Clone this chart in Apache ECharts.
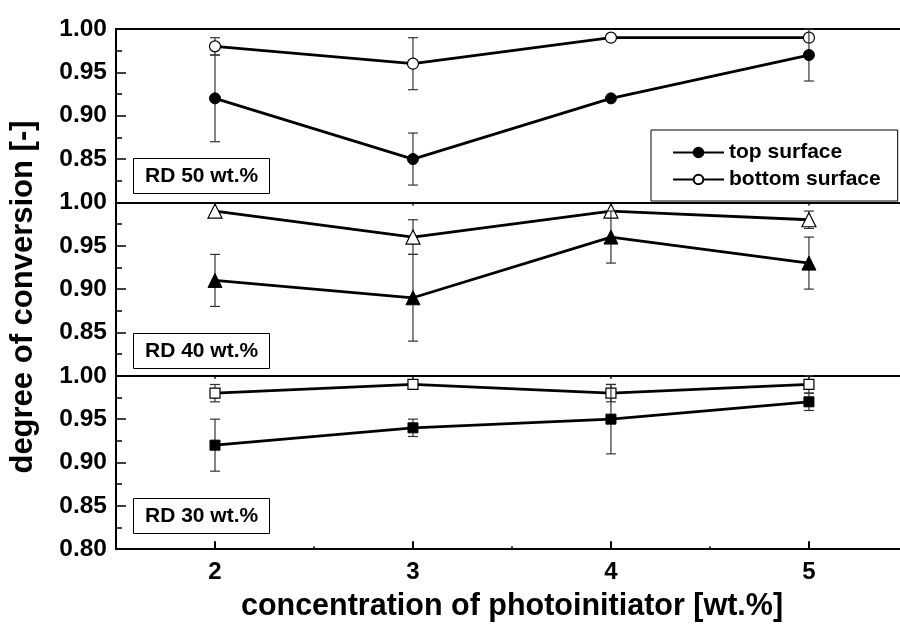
<!DOCTYPE html>
<html>
<head>
<meta charset="utf-8">
<script src="https://cdn.jsdelivr.net/npm/echarts@6/dist/echarts.min.js"></script>
<style>
  html, body { margin: 0; padding: 0; background: #fff; }
  #chart { width: 900px; height: 624px; }
</style>
</head>
<body>
<div id="chart"></div>
<script>
// Photoinitiator concentration [wt.%]
const concentration = [2, 3, 4, 5];
const xTickValues = [2, 3, 4, 5];
const xMinorTickValues = [2.5, 3.5, 4.5];

// Degree of conversion, RD 50 wt.%
const rd50Top = [0.92, 0.85, 0.92, 0.97];
const rd50TopErr = [0.05, 0.03, 0, 0.03];
const rd50Bottom = [0.98, 0.96, 0.99, 0.99];
const rd50BottomErr = [0.01, 0.03, 0, 0];

// Degree of conversion, RD 40 wt.%
const rd40Top = [0.91, 0.89, 0.96, 0.93];
const rd40TopErr = [0.03, 0.05, 0.03, 0.03];
const rd40Bottom = [0.99, 0.96, 0.99, 0.98];
const rd40BottomErr = [0, 0.02, 0, 0.01];

// Degree of conversion, RD 30 wt.%
const rd30Top = [0.92, 0.94, 0.95, 0.97];
const rd30TopErr = [0.03, 0.01, 0.04, 0.01];
const rd30Bottom = [0.98, 0.99, 0.98, 0.99];
const rd30BottomErr = [0.01, 0, 0.01, 0.01];

const panelLabels = ['RD 50 wt.%', 'RD 40 wt.%', 'RD 30 wt.%'];
const seriesNames = ['top surface', 'bottom surface'];

const FONT = '"Liberation Sans", Arial, Helvetica, sans-serif';

const panels = [
  { label: panelLabels[0], symbol: 'circle', size: 11, top: rd50Top, topErr: rd50TopErr, bottom: rd50Bottom, bottomErr: rd50BottomErr },
  { label: panelLabels[1], symbol: 'triangle', size: 14, top: rd40Top, topErr: rd40TopErr, bottom: rd40Bottom, bottomErr: rd40BottomErr },
  { label: panelLabels[2], symbol: 'rect', size: 10, top: rd30Top, topErr: rd30TopErr, bottom: rd30Bottom, bottomErr: rd30BottomErr }
];

// Layout of the three stacked panels (the x range runs off the right edge)
const xMin = 1.5, xMax = 5.46;
const gridLeft = 116, gridHeight = 173.4;
const gridTops = [29, 202.4, 375.8];
const labelBoxTops = [158, 333, 498];

const axisLineStyle = { color: '#000', width: 2 };

function errorBar(params, api) {
  const x = api.value(0), lo = api.value(1), hi = api.value(2);
  if (!(hi > lo)) return null;
  const a = api.coord([x, hi]), b = api.coord([x, lo]);
  const cw = 5;
  const st = { stroke: '#333', lineWidth: 1.2 };
  return {
    type: 'group',
    children: [
      { type: 'line', shape: { x1: a[0], y1: a[1], x2: b[0], y2: b[1] }, style: st },
      { type: 'line', shape: { x1: a[0] - cw, y1: a[1], x2: a[0] + cw, y2: a[1] }, style: st },
      { type: 'line', shape: { x1: b[0] - cw, y1: b[1], x2: b[0] + cw, y2: b[1] }, style: st }
    ]
  };
}

const grid = [], xAxis = [], yAxis = [], series = [], title = [];

panels.forEach((p, i) => {
  grid.push({ left: gridLeft, right: 0, top: gridTops[i], height: gridHeight });

  const isLast = i === panels.length - 1;
  // bottom edge of the panel
  xAxis.push({
    gridIndex: i, type: 'value', min: xMin, max: xMax, position: 'bottom',
    axisLine: { onZero: false, lineStyle: axisLineStyle },
    axisTick: isLast ? { show: true, inside: true, length: 8, customValues: xTickValues, lineStyle: { color: '#000', width: 2 } } : { show: false },
    axisLabel: isLast ? { show: true, customValues: xTickValues, margin: 11, color: '#000', fontSize: 24, fontWeight: 'bold', fontFamily: FONT } : { show: false },
    splitLine: { show: false }
  });
  // top edge of the panel
  xAxis.push({
    gridIndex: i, type: 'value', min: xMin, max: xMax, position: 'top',
    axisLine: { onZero: false, lineStyle: axisLineStyle },
    axisTick: i > 0 ? { show: true, inside: true, length: 3, customValues: xTickValues, lineStyle: { color: '#000', width: 1.5 } } : { show: false },
    axisLabel: { show: false },
    splitLine: { show: false }
  });
  const xIdx = xAxis.length - 2;

  yAxis.push({
    gridIndex: i, type: 'value', min: 0.8, max: 1.0, interval: 0.05,
    axisLine: { onZero: false, lineStyle: axisLineStyle },
    axisTick: { show: true, inside: true, length: 10, lineStyle: { color: '#000', width: 1.5 } },
    minorTick: { show: true, splitNumber: 2, length: 6, lineStyle: { color: '#000', width: 1.5 } },
    axisLabel: {
      show: true, margin: 9, color: '#000', fontSize: 24.5, fontWeight: 'bold', fontFamily: FONT,
      showMinLabel: isLast, formatter: v => v.toFixed(2)
    },
    splitLine: { show: false }, minorSplitLine: { show: false }
  });

  const errData = (vals, errs) => concentration.map((x, k) => [x, vals[k] - errs[k], vals[k] + errs[k]]);
  const lineData = vals => concentration.map((x, k) => [x, vals[k]]);

  series.push({
    type: 'custom', renderItem: errorBar, xAxisIndex: xIdx, yAxisIndex: i,
    data: errData(p.bottom, p.bottomErr), encode: { x: 0, y: [1, 2] }, z: 2, silent: true
  });
  series.push({
    type: 'line', name: seriesNames[1], xAxisIndex: xIdx, yAxisIndex: i,
    data: lineData(p.bottom), symbol: p.symbol, symbolSize: p.size, showAllSymbol: true,
    itemStyle: { color: '#fff', borderColor: '#000', borderWidth: 1.2 },
    lineStyle: { color: '#000', width: 2.8 }, z: 3, animation: false
  });
  series.push({
    type: 'custom', renderItem: errorBar, xAxisIndex: xIdx, yAxisIndex: i,
    data: errData(p.top, p.topErr), encode: { x: 0, y: [1, 2] }, z: 4, silent: true
  });
  series.push({
    type: 'line', name: seriesNames[0], xAxisIndex: xIdx, yAxisIndex: i,
    data: lineData(p.top), symbol: p.symbol, symbolSize: p.size, showAllSymbol: true,
    itemStyle: { color: '#000', borderColor: '#000', borderWidth: 1 },
    lineStyle: { color: '#000', width: 2.8 }, z: 5, animation: false
  });

  title.push({
    text: p.label, left: 133, top: labelBoxTops[i],
    padding: [7, 12, 7, 12], borderColor: '#000', borderWidth: 1, backgroundColor: '#fff',
    textStyle: { color: '#000', fontSize: 21, fontWeight: 'bold', fontFamily: FONT, lineHeight: 22 }
  });
});

// minor ticks between the integer concentrations
xAxis.push({
  gridIndex: 2, type: 'value', min: xMin, max: xMax, position: 'bottom',
  axisLine: { show: false },
  axisTick: { show: true, inside: true, length: 3, customValues: xMinorTickValues, lineStyle: { color: '#000', width: 1.5 } },
  axisLabel: { show: false }, splitLine: { show: false }
});

const option = {
  animation: false,
  backgroundColor: '#fff',
  title,
  grid, xAxis, yAxis, series,
  legend: {
    data: seriesNames, orient: 'vertical', left: 651, top: 130,
    itemWidth: 51, itemHeight: 12, itemGap: 6,
    padding: [12, 17, 11, 21],
    borderColor: '#000', borderWidth: 1, backgroundColor: '#fff',
    selectedMode: false,
    textStyle: { color: '#000', fontSize: 21, fontWeight: 'bold', fontFamily: FONT }
  },
  graphic: [
    {
      type: 'text', x: 512, y: 607,
      style: { text: 'concentration of photoinitiator [wt.%]', align: 'center', verticalAlign: 'middle',
        font: 'bold 30.5px ' + FONT, fill: '#000' }
    },
    {
      type: 'text', x: 23, y: 297, rotation: Math.PI / 2,
      style: { text: 'degree of conversion [-]', align: 'center', verticalAlign: 'middle',
        font: 'bold 31px ' + FONT, fill: '#000' }
    }
  ]
};

const chart = echarts.init(document.getElementById('chart'), null, { renderer: 'canvas' });
chart.setOption(option);
</script>
</body>
</html>
